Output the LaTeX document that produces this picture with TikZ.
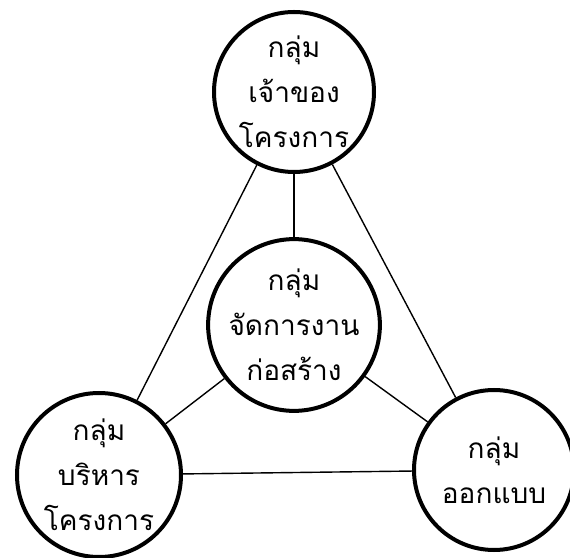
\documentclass[tikz,border=0pt]{standalone}
\usepackage{fontspec}
\newfontfamily\thaifont[Script=Thai]{Loma}
\tikzset{
grp/.style={circle,draw,line width=4pt,inner sep=0pt,minimum size=#1,align=center,
  font=\thaifont\fontsize{28}{45}\selectfont},
link/.style={line width=1.4pt}
}
\begin{document}
\begin{tikzpicture}[x=1pt,y=1pt]
\useasboundingbox (0,0) rectangle (570,557);
\node[grp=160pt] (owner) at (294,465) {กลุ่ม\\เจ้าของ\\โครงการ};
\node[grp=156pt] (build) at (294,232) {กลุ่ม\\จัดการงาน\\ก่อสร้าง};
\node[grp=164pt] (admin) at (99,82) {กลุ่ม\\บริหาร\\โครงการ};
\node[grp=160pt] (design) at (494,87) {กลุ่ม\\ออกแบบ};
\draw[link] (owner) -- (build);
\draw[link] (owner) -- (admin);
\draw[link] (owner) -- (design);
\draw[link] (build) -- (admin);
\draw[link] (build) -- (design);
\draw[link] (admin) -- (design);
\end{tikzpicture}
\end{document}
